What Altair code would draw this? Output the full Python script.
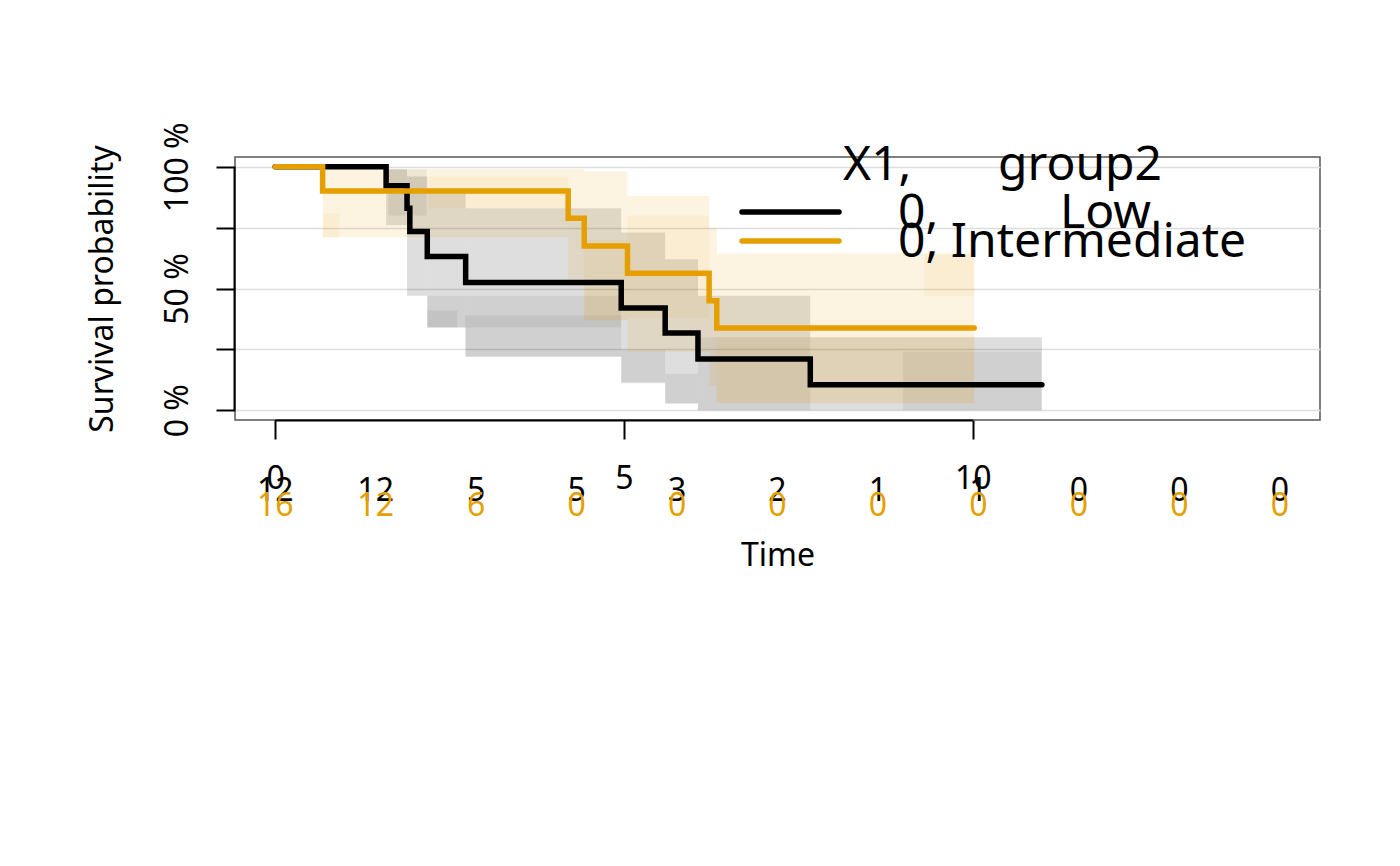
import altair as alt
import pandas as pd

# ---------------- data ----------------
groups = ["Low", "Intermediate"]
colors = ["#000000", "#E69F00"]

# Kaplan-Meier step curves (time, survival)
low_t = [0, 1.59, 1.89, 1.93, 2.18, 2.73, 4.96, 5.59, 6.06, 7.67, 10.99]
low_s = [1.0, 0.922, 0.83, 0.734, 0.631, 0.525, 0.42, 0.317, 0.211, 0.105, 0.105]
int_t = [0, 0.68, 4.2, 4.43, 5.05, 6.22, 6.33, 10.02]
int_s = [1.0, 0.9, 0.788, 0.675, 0.563, 0.45, 0.338, 0.338]

# confidence-band rectangles: main layer
low_ci_t1 = [1.59, 1.89, 2.18, 2.73, 4.96, 5.59, 6.06, 7.67]
low_ci_t2 = [1.89, 2.18, 2.73, 4.96, 5.59, 6.06, 7.67, 10.99]
low_ci_lo = [0.76, 0.47, 0.34, 0.22, 0.114, 0.027, 0.0, 0.0]
low_ci_hi = [0.99, 0.96, 0.90, 0.83, 0.73, 0.62, 0.47, 0.30]

int_ci_t1 = [0.68, 4.2, 4.43, 5.05, 6.22, 6.33]
int_ci_t2 = [4.2, 4.43, 5.05, 6.22, 6.33, 10.02]
int_ci_lo = [0.71, 0.54, 0.37, 0.24, 0.10, 0.03]
int_ci_hi = [0.99, 0.99, 0.98, 0.88, 0.75, 0.645]

# confidence-band rectangles: secondary (overlapping) layer
low_ci2_t1 = [1.62, 2.18, 2.18, 2.72, 4.96, 5.59, 6.06, 9.0]
low_ci2_t2 = [2.17, 4.96, 2.61, 4.96, 5.59, 6.06, 7.67, 10.98]
low_ci2_lo = [0.80, 0.34, 0.34, 0.22, 0.11, 0.03, 0.0, 0.0]
low_ci2_hi = [0.99, 0.47, 0.41, 0.39, 0.25, 0.15, 0.30, 0.24]

int_ci2_t1 = [0.69, 2.2, 4.43, 5.05, 6.33, 9.3]
int_ci2_t2 = [0.92, 4.2, 5.05, 6.22, 10.02, 10.02]
int_ci2_lo = [0.71, 0.83, 0.37, 0.38, 0.03, 0.47]
int_ci2_hi = [0.81, 0.96, 0.70, 0.80, 0.30, 0.64]

# numbers at risk table
risk_times = [0, 1.44, 2.88, 4.32, 5.76, 7.2, 8.64, 10.08, 11.52, 12.96, 14.4]
risk_low = [12, 12, 5, 5, 3, 2, 1, 1, 0, 0, 0]
risk_int = [16, 12, 6, 0, 0, 0, 0, 0, 0, 0, 0]

x_ticks = [0, 5, 10]
y_ticks = [0, 0.25, 0.5, 0.75, 1.0]
x_domain = [-0.576, 14.976]
y_domain = [-0.04, 1.04]

FONT = "Noto Sans"
FS = 32
W, H = 1085, 263

# ---------------- tables ----------------
curves = pd.concat([
    pd.DataFrame({"time": low_t, "surv": low_s, "group": "Low", "order": 0}),
    pd.DataFrame({"time": int_t, "surv": int_s, "group": "Intermediate", "order": 1}),
])

def rects(t1, t2, lo, hi, g, a):
    return pd.DataFrame({"t1": t1, "t2": t2, "lo": lo, "hi": hi, "group": g, "alpha": a})

bands = pd.concat([
    rects(low_ci_t1, low_ci_t2, low_ci_lo, low_ci_hi, "Low", 0.13),
    rects(low_ci2_t1, low_ci2_t2, low_ci2_lo, low_ci2_hi, "Low", 0.06),
    rects(int_ci_t1, int_ci_t2, int_ci_lo, int_ci_hi, "Intermediate", 0.12),
    rects(int_ci2_t1, int_ci2_t2, int_ci2_lo, int_ci2_hi, "Intermediate", 0.06),
])

risk = pd.DataFrame({"time": risk_times, "low": risk_low, "inter": risk_int})

xs = alt.Scale(domain=x_domain, nice=False, zero=False)
ys = alt.Scale(domain=y_domain, nice=False, zero=False)
cs = alt.Scale(domain=groups, range=colors)

label_expr = ("datum.value == 0 ? '0 %' : datum.value == 0.5 ? '50 %' : "
              "datum.value == 1 ? '100 %' : ''")

x_axis = alt.Axis(values=x_ticks, title="Time", domain=False, grid=False, format="d",
                  tickSize=19, tickWidth=2, tickColor="black",
                  labelFontSize=FS, labelColor="black", labelFont=FONT,
                  labelBaseline="middle", labelPadding=39, labelFlush=False,
                  labelOverlap=False,
                  titleFontSize=FS, titleFont=FONT, titleFontWeight="normal",
                  titleColor="black", titleY=145, titleBaseline="alphabetic")
y_axis = alt.Axis(values=y_ticks, title="Survival probability", domain=False,
                  grid=True, gridColor="#dddddd", gridWidth=1.5,
                  tickSize=19, tickWidth=2, tickColor="black",
                  labelExpr=label_expr, labelAngle=270, labelAlign="center",
                  labelBaseline="middle", labelPadding=39, labelFontSize=FS,
                  labelColor="black", labelFont=FONT, labelFlush=False,
                  labelOverlap=False,
                  titleFontSize=FS, titleFont=FONT, titleFontWeight="normal",
                  titleColor="black", titleAngle=270, titleX=-123, titleY=H / 2,
                  titleAlign="center", titleBaseline="alphabetic")

base_axes = alt.Chart(pd.DataFrame({"x": [x_ticks[0]], "y": [y_ticks[0]]})).mark_point(opacity=0).encode(
    x=alt.X("x:Q", scale=xs, axis=x_axis),
    y=alt.Y("y:Q", scale=ys, axis=y_axis),
)

band_layer = alt.Chart(bands).mark_rect().encode(
    x=alt.X("t1:Q", scale=xs), x2="t2:Q",
    y=alt.Y("lo:Q", scale=ys), y2="hi:Q",
    color=alt.Color("group:N", scale=cs, legend=None),
    opacity=alt.Opacity("alpha:Q", scale=None, legend=None),
)

line_layer = alt.Chart(curves).mark_line(
    interpolate="step-after", strokeWidth=5.5, strokeCap="round"
).encode(
    x=alt.X("time:Q", scale=xs),
    y=alt.Y("surv:Q", scale=ys),
    color=alt.Color("group:N", scale=cs, legend=None),
    detail="group:N",
    order="order:Q",
)

# R-style axis lines spanning only the tick range
xline = alt.Chart(pd.DataFrame({"a": [min(x_ticks)], "b": [max(x_ticks)]})).mark_rule(
    color="black", strokeWidth=2).encode(
    x=alt.X("a:Q", scale=xs), x2="b:Q", y=alt.value(H + 0.5))
yline = alt.Chart(pd.DataFrame({"a": [min(y_ticks)], "b": [max(y_ticks)]})).mark_rule(
    color="black", strokeWidth=2).encode(
    y=alt.Y("a:Q", scale=ys), y2="b:Q", x=alt.value(-0.5))

# numbers at risk
risk_low_layer = alt.Chart(risk).mark_text(
    font=FONT, fontSize=FS, color=colors[0], baseline="middle", align="center"
).encode(x=alt.X("time:Q", scale=xs), y=alt.value(334), text="low:Q")
risk_int_layer = alt.Chart(risk).mark_text(
    font=FONT, fontSize=FS, color=colors[1], baseline="middle", align="center"
).encode(x=alt.X("time:Q", scale=xs), y=alt.value(349), text="inter:Q")

# legend (drawn R-style inside the plot)
LF = 48
def ltext(txt, x, y):
    return alt.Chart(pd.DataFrame({"t": [txt]})).mark_text(
        font=FONT, fontSize=LF, color="black", align="left", baseline="alphabetic"
    ).encode(x=alt.value(x), y=alt.value(y), text="t:N")

def lline(color, y):
    return alt.Chart(pd.DataFrame({"c": [color]})).mark_rule(
        color=color, strokeWidth=5.5, strokeCap="round"
    ).encode(x=alt.value(507), x2=alt.value(604), y=alt.value(y))

legend = [
    ltext("X1,", 608, 23), ltext("group2", 763, 23),
    lline(colors[0], 55), lline(colors[1], 84),
    ltext("0,", 663, 71), ltext("Low", 825, 71),
    ltext("0, Intermediate", 663, 100),
]

chart = alt.layer(
    base_axes, band_layer, line_layer, xline, yline,
    risk_low_layer, risk_int_layer, *legend
).properties(
    width=W, height=H,
    padding={"left": 227, "top": 149, "right": 72, "bottom": 438},
    autosize=alt.AutoSizeParams(type="none"),
).configure(font=FONT).configure_view(
    stroke="#555555", strokeWidth=1.5
)

chart.save("out.html", embed_options={"renderer": "svg", "actions": False})
